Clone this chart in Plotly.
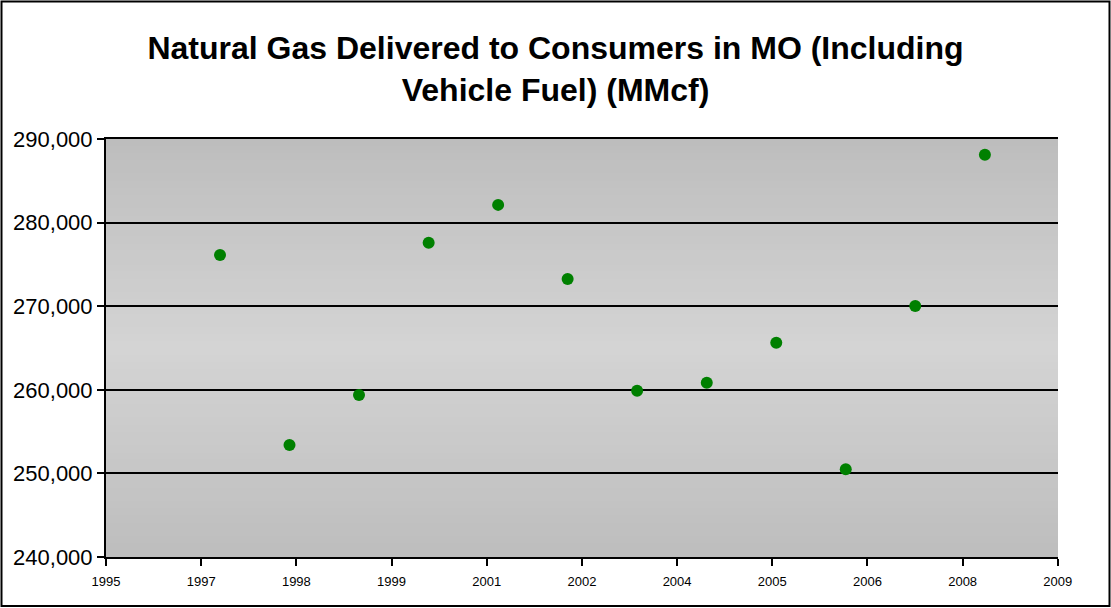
import plotly.graph_objects as go

# ---- data ----
years = [1997, 1998, 1999, 2000, 2001, 2002, 2003, 2004, 2005, 2006, 2007, 2008]
values = [276130, 253410, 259370, 277600, 282120, 273260,
          259880, 260840, 265630, 250500, 270020, 288110]
dates = [f"{y}-07-01" for y in years]

title_text = "Natural Gas Delivered to Consumers in MO (Including<br>Vehicle Fuel) (MMcf)"

# ---- layout geometry ----
W, H = 1111, 608
L, R, T, B = 106, 1111 - 1058, 139, 608 - 557
pw, ph = W - L - R, H - T - B

fig = go.Figure()
fig.add_trace(go.Scatter(
    x=dates, y=values, mode="markers",
    marker=dict(color="#008000", size=12, line=dict(width=0)),
    showlegend=False, hoverinfo="x+y"))

# gradient background bands (dark top -> light middle -> dark bottom)
shapes = []
N = 60
top_c, mid_c = 189, 212
for i in range(N):
    t = (i + 0.5) / N
    d = abs(t - 0.5) * 2
    c = round(mid_c + (top_c - mid_c) * d)
    shapes.append(dict(type="rect", xref="paper", yref="paper",
                       x0=0, x1=1, y0=i / N, y1=(i + 1) / N + 0.002,
                       fillcolor=f"rgb({c},{c},{c})", line=dict(width=0),
                       layer="below"))

# outer chart border
def px_to_paper_x(px):
    return (px - L) / pw

def py_to_paper_y(py):
    return (H - B - py) / ph

shapes.append(dict(type="rect", xref="paper", yref="paper",
                   x0=px_to_paper_x(1.5), x1=px_to_paper_x(1109.5),
                   y0=py_to_paper_y(606), y1=py_to_paper_y(1.5),
                   line=dict(color="black", width=2), fillcolor="rgba(0,0,0,0)",
                   layer="above"))

fig.update_layout(
    width=W, height=H,
    margin=dict(l=L, r=R, t=T, b=B, pad=0),
    paper_bgcolor="white",
    plot_bgcolor="rgb(200,200,200)",
    font=dict(family="Liberation Sans, Arial, sans-serif", color="black"),
    title=dict(text=title_text, x=0.5, xanchor="center", xref="container",
               y=1 - 59 / H, yanchor="middle", yref="container",
               font=dict(size=32, weight="bold", color="black",
                         family="Liberation Sans, Arial, sans-serif")),
    shapes=shapes,
    xaxis=dict(
        type="date",
        range=["1995-11-10", "2009-07-20"],
        tick0="1995-11-10", dtick=500 * 86400000, tickformat="%Y",
        showgrid=False, zeroline=False,
        showline=True, linecolor="black", linewidth=2, mirror=True,
        ticks="outside", ticklen=7, tickwidth=2, tickcolor="black",
        tickfont=dict(size=13), ticklabelstandoff=4,
    ),
    yaxis=dict(
        range=[240000, 290000], dtick=10000, tickformat=",d",
        showgrid=True, gridcolor="black", gridwidth=2,
        zeroline=False,
        showline=True, linecolor="black", linewidth=2,
        ticks="outside", ticklen=7, tickwidth=2, tickcolor="black",
        tickfont=dict(size=22),
    ),
)

fig.write_html("out.html", config={"displayModeBar": False},
               post_script="document.body.style.margin='0';document.body.style.overflow='hidden';")
